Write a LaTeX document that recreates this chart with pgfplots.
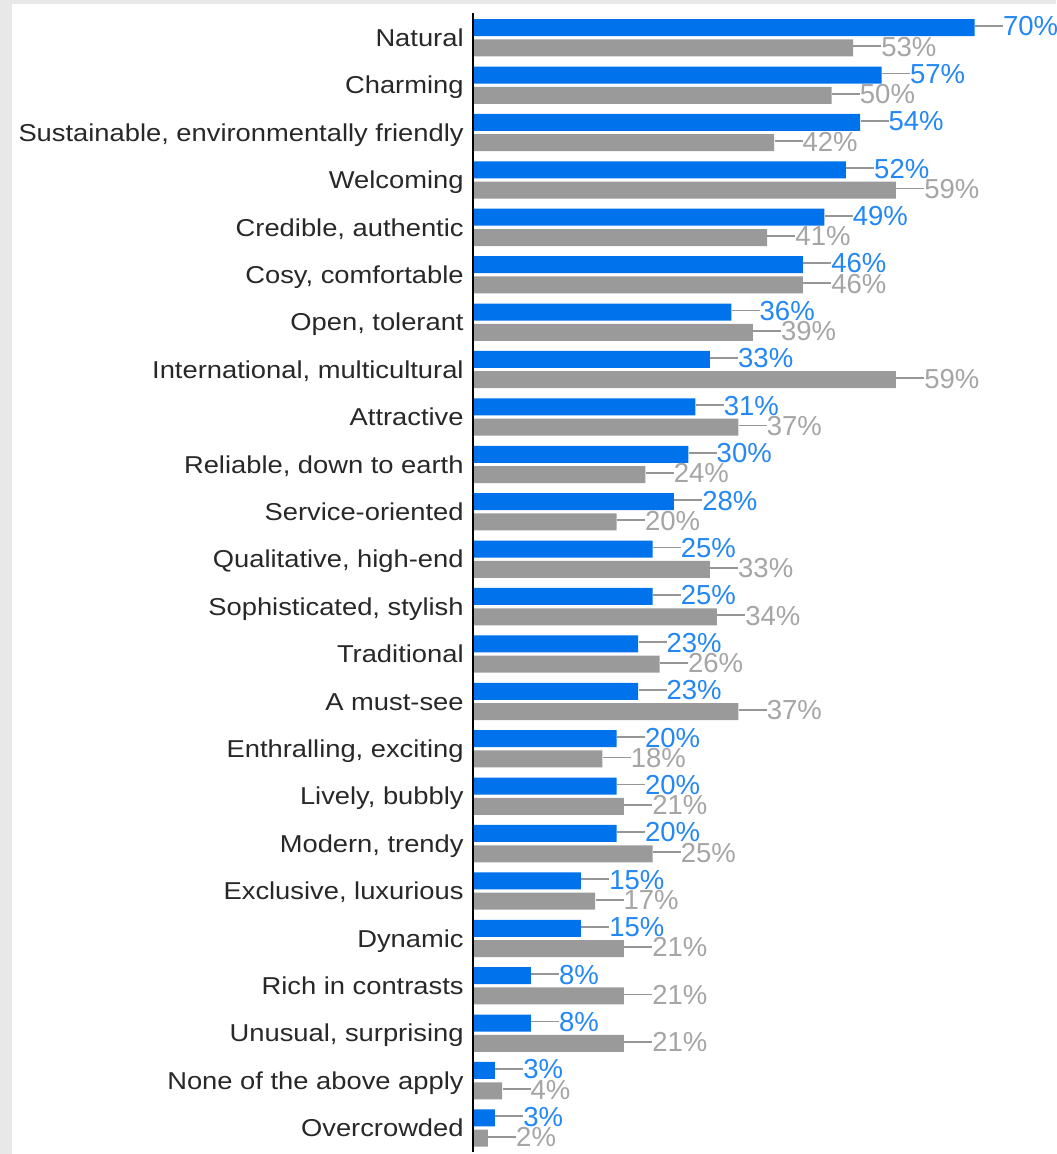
\documentclass[border=0pt]{standalone}
\usepackage{pgfplots}
\pgfplotsset{compat=1.18}
\usepackage{pgfplotstable}
\usepackage{fontspec}
\setmainfont{Liberation Sans}[FakeStretch=1.12]
\newfontfamily\valfont{Liberation Sans}
\definecolor{barblue}{RGB}{0,114,236}
\definecolor{txtblue}{RGB}{35,135,245}
\definecolor{bargray}{RGB}{154,154,154}
\definecolor{txtgray}{RGB}{165,165,165}
\definecolor{leadgray}{RGB}{150,150,150}
\definecolor{framegray}{RGB}{232,232,232}
\definecolor{labtxt}{RGB}{40,40,40}

\pgfplotstableread{
idx blue gray
0 70 53
1 57 50
2 54 42
3 52 59
4 49 41
5 46 46
6 36 39
7 33 59
8 31 37
9 30 24
10 28 20
11 25 33
12 25 34
13 23 26
14 23 37
15 20 18
16 20 21
17 20 25
18 15 17
19 15 21
20 8 21
21 8 21
22 3 4
23 3 2
}\datatable

\begin{document}
\begin{tikzpicture}
\fill[framegray] (-236.75pt,-1pt) rectangle (291.25pt,576pt);
\fill[white] (-230.75pt,-1pt) rectangle (291.25pt,574pt);
\begin{axis}[
 at={(0pt,0pt)}, anchor=south west,
 scale only axis, width=291.25pt, height=569.5pt,
 xmin=0, xmax=81.35, ymin=-0.523, ymax=23.506, y dir=reverse,
 xbar, bar width=8.5pt,
 /pgf/number format/assume math mode=true,
 axis line style={draw=none},
 xtick=\empty, ytick={0,...,23},
 yticklabels={Natural, Charming, {Sustainable, environmentally friendly}, Welcoming, {Credible, authentic}, {Cosy, comfortable}, {Open, tolerant}, {International, multicultural}, Attractive, {Reliable, down to earth}, Service-oriented, {Qualitative, high-end}, {Sophisticated, stylish}, Traditional, A must-see, {Enthralling, exciting}, {Lively, bubbly}, {Modern, trendy}, {Exclusive, luxurious}, Dynamic, Rich in contrasts, {Unusual, surprising}, None of the above apply, Overcrowded},
 major tick length=0pt,
 yticklabel style={anchor=east, inner sep=0pt, xshift=-4.75pt, font=\fontsize{12.2pt}{14pt}\selectfont, text=labtxt, text height=8.74pt, text depth=0pt},
 nodes near coords={\textcolor{leadgray}{\rule[4.5pt]{14pt}{0.9pt}}\valfont\pgfmathprintnumber{\pgfplotspointmeta}\%},
 every node near coord/.append style={anchor=west, inner sep=0pt, font=\fontsize{13.75pt}{15pt}\selectfont\valfont, text height=9.85pt, text depth=0pt, yshift=0.75pt},
 clip=false,
]
\addplot[fill=barblue, draw=none, bar shift=-0.214, every node near coord/.append style={text=txtblue}] table[x=blue, y=idx] {\datatable};
\addplot[fill=bargray, draw=none, bar shift=0.214, every node near coord/.append style={text=txtgray}] table[x=gray, y=idx] {\datatable};
\draw[black, line width=1pt] (rel axis cs:0,0) -- (rel axis cs:0,1);
\end{axis}
\pgfresetboundingbox
\path (-236.75pt,-1pt) rectangle (291.25pt,576pt);
\end{tikzpicture}
\end{document}
